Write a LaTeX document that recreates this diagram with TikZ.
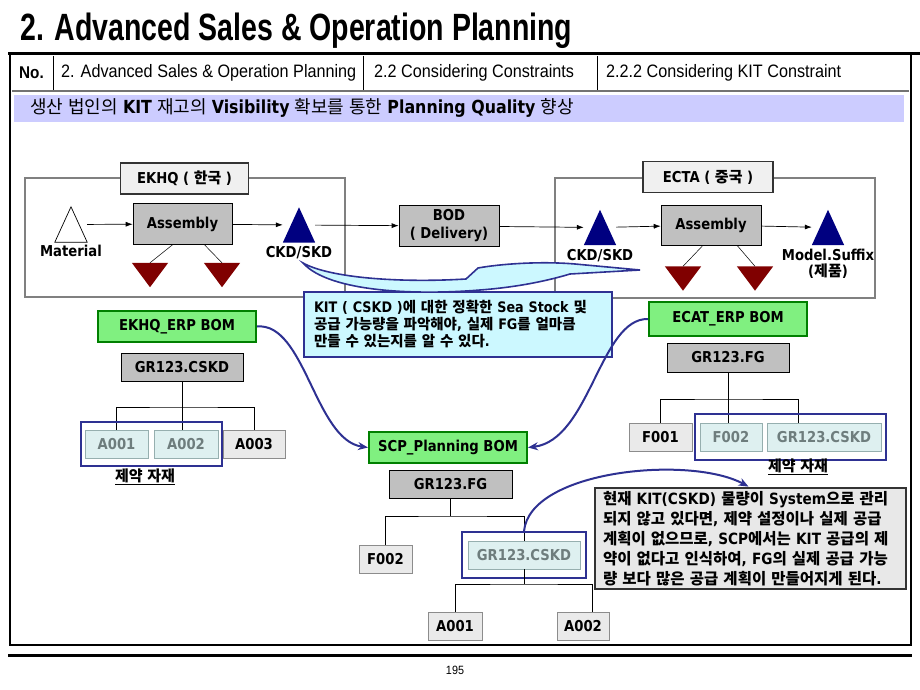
\documentclass[tikz,border=0pt]{standalone}
\usepackage{fontspec}
\usepackage{tikz}
\usetikzlibrary{arrows.meta,positioning,fit}
\setmainfont{DejaVu Sans}[FakeStretch=0.88]
\newfontfamily\hangul{Noto Sans CJK KR}
\newfontfamily\headfont{Liberation Sans}[FakeStretch=0.9]
\newfontfamily\titlefont{Liberation Sans}[FakeStretch=0.75]
% Hangul syllables are set in the CJK font, everything else in DejaVu
\XeTeXinterchartokenstate=1
\newXeTeXintercharclass\krclass
\count255="AC00
\loop
  \XeTeXcharclass\count255=\krclass
  \advance\count255 by 1
\ifnum\count255<"D7A4
\repeat
\XeTeXinterchartoks 0 \krclass = {\begingroup\hangul}
\XeTeXinterchartoks 4095 \krclass = {\begingroup\hangul}
\XeTeXinterchartoks \krclass 0 = {\endgroup}
\XeTeXinterchartoks \krclass 4095 = {\endgroup}
\definecolor{framegray}{RGB}{128,128,128}
\definecolor{navyline}{RGB}{46,49,146}
\definecolor{navytri}{RGB}{0,0,128}
\definecolor{darkred}{RGB}{128,0,0}
\definecolor{bomgreen}{RGB}{128,240,128}
\definecolor{bomborder}{RGB}{0,128,0}
\definecolor{boxgray}{RGB}{192,192,192}
\definecolor{partgray}{RGB}{234,234,234}
\definecolor{partcyan}{RGB}{222,240,240}
\definecolor{cyanedge}{RGB}{150,175,175}
\definecolor{cyantext}{RGB}{110,125,125}
\definecolor{barlavender}{RGB}{204,204,255}
\definecolor{notecyan}{RGB}{204,248,255}
\definecolor{notegray}{RGB}{232,232,232}
\definecolor{labelgray}{RGB}{240,240,240}

\begin{document}
\begin{tikzpicture}[x=1pt,y=-1pt,
  sitelabel/.style={draw=black!80, line width=1.8pt, fill=labelgray, minimum width=128pt, minimum height=31pt, font=\fontsize{15}{18}\selectfont\bfseries},
  procbox/.style={draw=black, line width=0.6pt, fill=boxgray, minimum width=99pt, minimum height=41pt, font=\fontsize{15}{18}\selectfont\bfseries},
  tri/.style={minimum width=32pt, minimum height=35pt, inner sep=0pt},
  dropx/.style={minimum width=36pt, minimum height=24pt, inner sep=0pt},
  lbl/.style={font=\fontsize{15}{16}\selectfont\bfseries, inner sep=0pt, align=center},
  bomhead/.style={draw=bomborder, line width=2pt, fill=bomgreen, minimum width=158pt, minimum height=31pt, font=\fontsize{15}{18}\selectfont\bfseries},
  partbox/.style={draw=black, line width=0.6pt, fill=boxgray, minimum height=28pt, font=\fontsize{15}{18}\selectfont\bfseries},
  partlight/.style={draw=black!45, line width=0.6pt, fill=partgray, minimum height=28pt, font=\fontsize{15}{18}\selectfont\bfseries},
  partkeep/.style={draw=cyanedge, line width=0.6pt, fill=partcyan, text=cyantext, minimum height=28pt, font=\fontsize{15}{18}\selectfont\bfseries},
  keepframe/.style={draw=navyline, line width=2.2pt},
  keeplbl/.style={font=\fontsize{15}{18}\selectfont\bfseries, inner sep=0pt},
  flow/.style={-{Latex[length=7pt,width=5pt]}, line width=0.7pt},
  link/.style={-{Stealth[length=10pt,width=8pt]}, draw=navyline, line width=2pt},
  tree/.style={line width=0.7pt}
]
\useasboundingbox (0,0) rectangle (920,690);

% header
\node[anchor=base west, inner sep=0pt, font=\titlefont\bfseries\fontsize{38}{40}\selectfont] (title) at (20,41) {2. Advanced Sales \& Operation Planning};
\draw[line width=3pt] (8,54) -- (920,54);
\draw[line width=2.5pt] (10,54) -- (10,645) -- (911,645) -- (911,54);
\draw[black!55, line width=1.5pt] (12,91) -- (909,91);
\foreach \sx in {53,363,597}
  \draw[line width=0.8pt] (\sx,56) -- (\sx,90);
\node[anchor=west, inner sep=0pt, font=\headfont\bfseries\fontsize{17}{20}\selectfont] (hno) at (19,73) {No.};
\node[anchor=west, inner sep=0pt, font=\headfont\fontsize{18}{20}\selectfont] (hsec) at (61,73) {2. Advanced Sales \& Operation Planning};
\node[anchor=west, inner sep=0pt, font=\headfont\fontsize{18}{20}\selectfont] (hsub) at (374,73) {2.2 Considering Constraints};
\node[anchor=west, inner sep=0pt, font=\headfont\fontsize{18}{20}\selectfont] (htopic) at (606,73) {2.2.2 Considering KIT Constraint};
\fill[barlavender] (14,95) rectangle (904,122);
\node[anchor=west, inner sep=0pt, font=\fontsize{18}{20}\selectfont] (goal) at (30,108) {생산 법인의 \textbf{KIT} 재고의 \textbf{Visibility} 확보를 통한 \textbf{Planning Quality} 향상};
\draw[line width=3pt] (8,655) -- (912,655);
\node[font=\headfont\fontsize{12}{14}\selectfont] (page) at (455,670) {195};

% sites
\draw[framegray, line width=2pt] (25,178) rectangle (345,297);
\draw[framegray, line width=2pt] (555,178) rectangle (875,298);
\node[sitelabel] (ekhq) at (184.5,178.5) {EKHQ ( 한국 )};
\node[sitelabel, minimum width=130pt] (ecta) at (708,177) {ECTA ( 중국 )};

\node[tri] (mat) at (71,224.5) {};
\node[lbl, below=3pt of mat] (matlbl) {Material};
\node[procbox] (asm1) at (182.5,224) {Assembly};
\node[dropx] (dr1) at (150,275) {};
\node[dropx] (dr2) at (222,275) {};
\node[tri] (ckd1) at (299,225) {};
\node[lbl, below=3pt of ckd1] (ckd1lbl) {CKD/SKD};
\node[procbox, minimum width=100pt, align=center] (bod) at (449,226) {BOD\\( Delivery)};
\node[tri] (ckd2) at (600,227.5) {};
\node[lbl, below=4pt of ckd2] (ckd2lbl) {CKD/SKD};
\node[procbox, minimum width=100pt, minimum height=40pt] (asm2) at (711,225) {Assembly};
\node[tri] (model) at (828,227.5) {};
\node[lbl, below=4pt of model] (modellbl) {Model.Suffix\\(제품)};
\node[dropx] (dr3) at (683,278.5) {};
\node[dropx] (dr4) at (755,278.5) {};

\draw[fill=white, line width=0.7pt] (mat.south west) -- (mat.south east) -- (mat.north) -- cycle;
\foreach \t in {ckd1,ckd2,model}
  \fill[navytri] (\t.south west) -- (\t.south east) -- (\t.north) -- cycle;
\foreach \t in {dr1,dr2,dr3,dr4}
  \fill[darkred] (\t.north west) -- (\t.north east) -- (\t.south) -- cycle;

\draw[flow] (mat) -- (asm1);
\draw[flow] (asm1) -- (ckd1);
\draw[flow] (ckd1) -- (bod);
\draw[flow] (bod) -- (ckd2);
\draw[flow] (ckd2) -- (asm2);
\draw[flow] (asm2) -- (model);
\draw[line width=0.5pt] ([xshift=-10pt]asm1.south) -- (dr1.north);
\draw[line width=0.5pt] ([xshift=22pt]asm1.south) -- (dr2.north);
\draw[line width=0.5pt] ([xshift=-8pt]asm2.south) -- (dr3.north);
\draw[line width=0.5pt] ([xshift=26pt]asm2.south) -- (dr4.north);

% KIT note
\node[draw=navyline, line width=2.2pt, fill=notecyan, text width=288pt, inner xsep=10pt, minimum height=65pt, align=left, font=\fontsize{14.5}{17}\selectfont\bfseries] (kitnote) at (458,324.5) {KIT ( CSKD )에 대한 정확한 Sea Stock 및\\공급 가능량을 파악해야, 실제 FG를 얼마큼\\만들 수 있는지를 알 수 있다.};
\filldraw[fill=notecyan, draw=navyline, line width=1.6pt] (303,263) .. controls (330,293) and (420,295) .. (480,290) .. controls (520,287) and (550,280) .. (570,274) -- (640,270) -- (575,264) .. controls (540,261) and (500,264) .. (478,268) -- (466,279) .. controls (400,283) and (330,278) .. cycle;

% EKHQ ERP BOM
\node[bomhead] (ekhqbom) at (177,326.5) {EKHQ\_ERP BOM};
\node[partbox, minimum width=122pt] (cskd1) at (182,367) {GR123.CSKD};
\node[partkeep, minimum width=63pt] (a001) at (116.5,444) {A001};
\node[partkeep, minimum width=64pt] (a002) at (186,444) {A002};
\node[partlight, minimum width=62pt] (a003) at (254,444) {A003};
\coordinate (bar1) at (182,407);
\draw[tree] (cskd1.south) -- (cskd1.south |- a002.north);
\draw[tree] (a001.north) |- (bar1) -| (a003.north);
\node[keepframe, fit=(a001)(a002), inner xsep=4pt, inner ysep=7.5pt] (keep1) {};
\node[keeplbl] (keep1lbl) at (145,477) {\underline{제약 자재}};

% ECAT ERP BOM
\node[bomhead, minimum height=34pt] (ecatbom) at (728,319) {ECAT\_ERP BOM};
\node[partbox, minimum width=122pt, minimum height=29pt] (fg2) at (728,357.5) {GR123.FG};
\node[partlight, minimum width=63pt] (f001) at (660.5,437) {F001};
\node[partkeep, minimum width=62pt] (f002b) at (731,437) {F002};
\node[partkeep, minimum width=114pt] (cskd3) at (824,437) {GR123.CSKD};
\coordinate (bar4) at (728,399);
\draw[tree] (fg2.south) -- (fg2.south |- f002b.north);
\draw[tree] (f001.north) |- (bar4) -| ([xshift=-26pt]cskd3.north);
\node[keepframe, fit=(f002b)(cskd3), inner xsep=4.5pt, inner ysep=8.5pt] (keep2) {};
\node[keeplbl] (keep2lbl) at (798,467) {\underline{제약 자재}};

% SCP planning BOM
\node[bomhead] (scpbom) at (448,447.5) {SCP\_Planning BOM};
\node[partbox, minimum width=123pt] (fg1) at (450.5,484) {GR123.FG};
\node[partlight, minimum width=53pt] (f002a) at (385.5,559) {F002};
\node[partkeep, minimum width=112pt] (cskd2) at (524,555) {GR123.CSKD};
\coordinate (bar2) at (450.5,516);
\draw[tree] (fg1.south) -- (bar2);
\draw[tree] (f002a.north) |- (bar2) -| (cskd2.north);
\node[keepframe, fit=(cskd2), inner xsep=6pt, inner ysep=8.5pt] (keep3) {};
\node[partlight, minimum width=54pt] (a001b) at (455,626) {A001};
\node[partlight, minimum width=52pt] (a002b) at (583,626) {A002};
\coordinate (bar3) at (524,584);
\draw[tree] (cskd2.south) -- (bar3);
\draw[tree] (a001b.north) |- (bar3) -| ([xshift=9pt]a002b.north);

% SCP note
\node[draw=black!80, line width=2.5pt, fill=notegray, text width=295pt, inner xsep=8pt, minimum height=101pt, align=left, font=\fontsize{15.5}{20}\selectfont\bfseries] (scpnote) at (750.5,538.5) {현재  KIT(CSKD) 물량이 System으로 관리\\되지 않고 있다면, 제약 설정이나 실제 공급\\계획이 없으므로, SCP에서는 KIT 공급의 제\\약이 없다고 인식하여, FG의 실제 공급 가능\\량 보다 많은 공급 계획이 만들어지게 된다.};

% links
\draw[link] (ekhqbom.east) .. controls (305,322) and (315,440) .. (scpbom.west);
\draw[link] (ecatbom.west) .. controls (600,318) and (590,440) .. (scpbom.east);
\draw[link] (keep3.north) .. controls (530,470) and (690,455) .. ([xshift=-2pt]scpnote.north);
\end{tikzpicture}
\end{document}
